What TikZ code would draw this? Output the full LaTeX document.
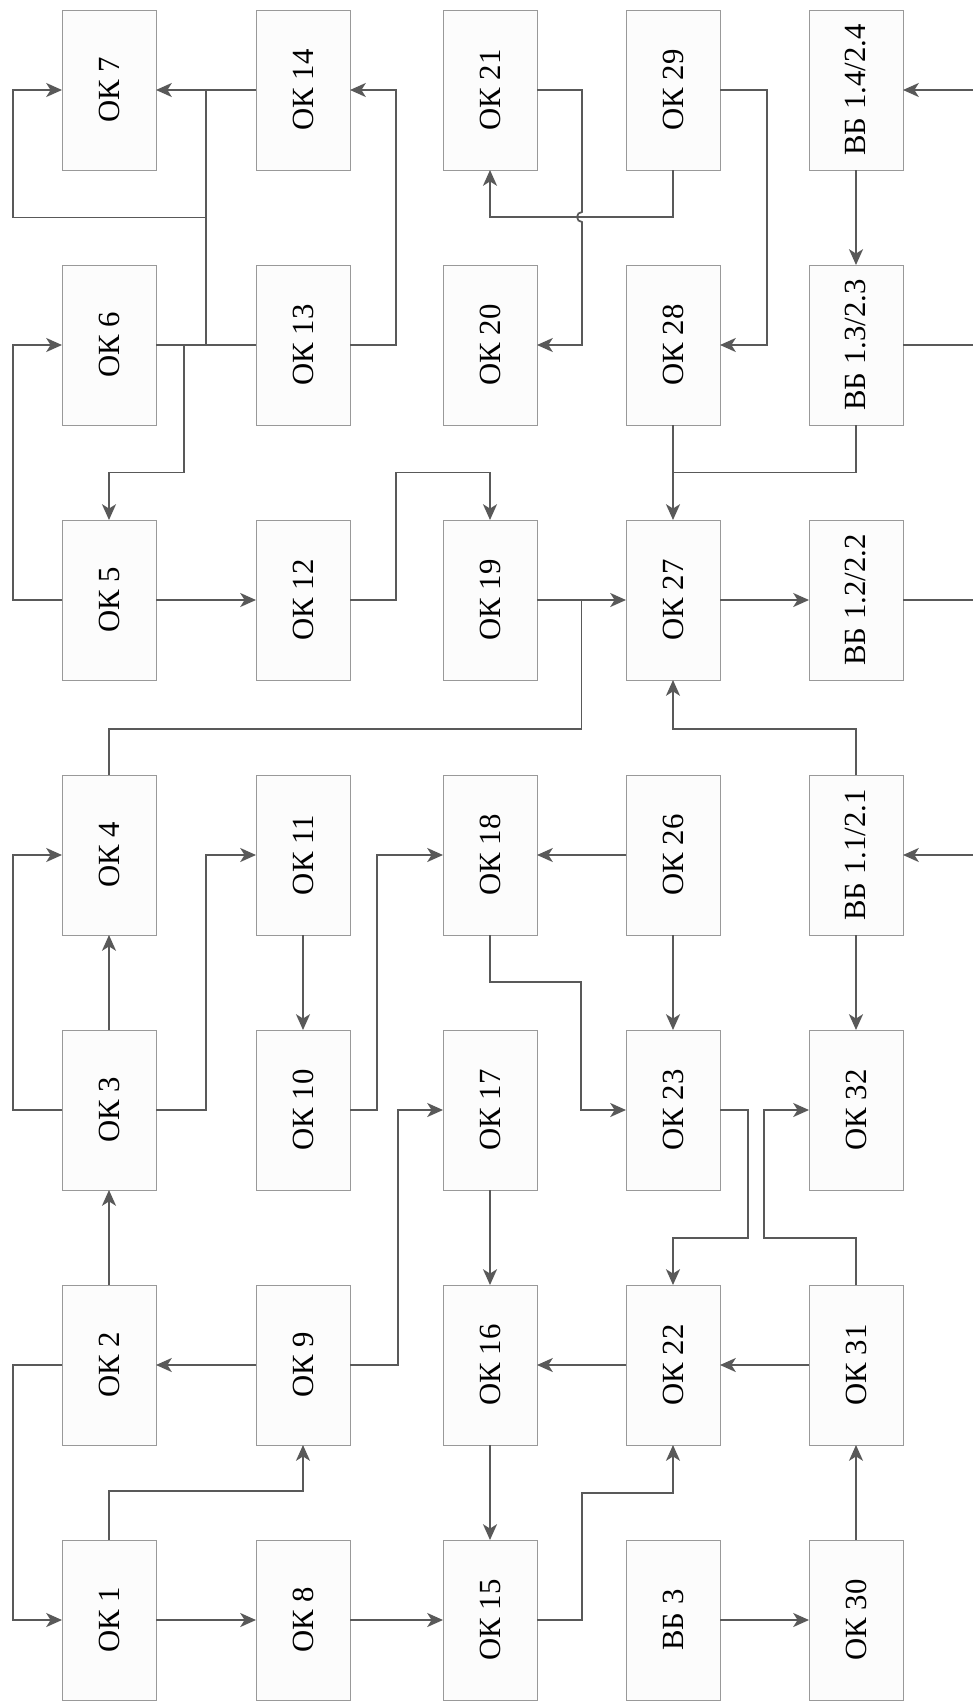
\documentclass[tikz,border=0pt]{standalone}
\usepackage{fontspec}
\setmainfont{Liberation Serif}
\usepackage{graphicx}
\usepackage{tikz}
\usetikzlibrary{arrows.meta,positioning,calc}
\newcommand{\vtext}[1]{\rotatebox{90}{#1}}

\begin{document}
\begin{tikzpicture}[
  node distance   = 1.9cm and 1.78cm,
  every node/.style = {font=\fontsize{17.5}{20}\selectfont, text=black},
  blk/.style  = {draw=black!40, line width=0.5pt, fill=black!1,
                 minimum width=1.88cm, minimum height=3.2cm,
                 inner sep=0pt, outer sep=0pt},
  arr/.style  = {-{Stealth[length=9pt,width=8pt,inset=2.5pt]},
                 draw=black!65, line width=1pt},
  ln/.style   = {draw=black!65, line width=1pt},
]
\useasboundingbox (0,0) rectangle (19.46,-34.12);

%% ---------- upper row ----------
\node[blk] (K7) at (2.18,-1.80) {\vtext{ОК 7}};
\node[blk, right=2.0cm of K7]   (K14) {\vtext{ОК 14}};
\node[blk, right=1.86cm of K14] (K21) {\vtext{ОК 21}};
\node[blk, right=of K21]        (K29) {\vtext{ОК 29}};
\node[blk, right=of K29]        (V14) {\vtext{ВБ 1.4/2.4}};

%% ---------- column 1 ----------
\node[blk, below=of K7] (K6) {\vtext{ОК 6}};
\node[blk, below=of K6] (K5) {\vtext{ОК 5}};
\node[blk, below=of K5] (K4) {\vtext{ОК 4}};
\node[blk, below=of K4] (K3) {\vtext{ОК 3}};
\node[blk, below=of K3] (K2) {\vtext{ОК 2}};
\node[blk, below=of K2] (K1) {\vtext{ОК 1}};

%% ---------- column 2 ----------
\node[blk, below=of K14] (K13) {\vtext{ОК 13}};
\node[blk, below=of K13] (K12) {\vtext{ОК 12}};
\node[blk, below=of K12] (K11) {\vtext{ОК 11}};
\node[blk, below=of K11] (K10) {\vtext{ОК 10}};
\node[blk, below=of K10] (K9)  {\vtext{ОК 9}};
\node[blk, below=of K9]  (K8)  {\vtext{ОК 8}};

%% ---------- column 3 ----------
\node[blk, below=of K21] (K20) {\vtext{ОК 20}};
\node[blk, below=of K20] (K19) {\vtext{ОК 19}};
\node[blk, below=of K19] (K18) {\vtext{ОК 18}};
\node[blk, below=of K18] (K17) {\vtext{ОК 17}};
\node[blk, below=of K17] (K16) {\vtext{ОК 16}};
\node[blk, below=of K16] (K15) {\vtext{ОК 15}};

%% ---------- column 4 ----------
\node[blk, below=of K29] (K28) {\vtext{ОК 28}};
\node[blk, below=of K28] (K27) {\vtext{ОК 27}};
\node[blk, below=of K27] (K26) {\vtext{ОК 26}};
\node[blk, below=of K26] (K23) {\vtext{ОК 23}};
\node[blk, below=of K23] (K22) {\vtext{ОК 22}};
\node[blk, below=of K22] (V3)  {\vtext{ВБ 3}};

%% ---------- column 5 ----------
\node[blk, below=of V14] (V13) {\vtext{ВБ 1.3/2.3}};
\node[blk, below=of V13] (V12) {\vtext{ВБ 1.2/2.2}};
\node[blk, below=of V12] (V11) {\vtext{ВБ 1.1/2.1}};
\node[blk, below=of V11] (K32) {\vtext{ОК 32}};
\node[blk, below=of K32] (K31) {\vtext{ОК 31}};
\node[blk, below=of K31] (K30) {\vtext{ОК 30}};

%% junctions
\coordinate (J1) at ($(K7.east)!0.5!(K14.west)$);
\coordinate (J2) at ($(K6.east)!0.5!(K13.west)$);
\coordinate (J3) at ($(J1)!0.5!(J2)$);
\coordinate (J4) at ($(K28.south)!0.5!(K27.north)$);
\coordinate (J5) at ($(K19.east)!0.5!(K27.west)$);
\coordinate (E) at (19.46,0);
\path (V14.east -| E) coordinate (R14);
\path (V13.east -| E) coordinate (R13);
\path (V12.east -| E) coordinate (R12);
\path (V11.east -| E) coordinate (R11);

%% ---------- top left ----------
\draw[arr](K14)--(K7);
\draw[ln](J1)--(J2);
\draw[ln](K6.east)--(K13.west);
\draw[arr](J3) -| ([xshift=-0.98cm]K7.west) -- (K7.west);
\draw[arr](K13.east) -- ++(0.92,0) |- (K14.east);
\draw[arr]([xshift=0.56cm]K6.east) |- ([yshift=0.95cm]K5.north) -- (K5.north);
\draw[arr](K5.west) -- ++(-0.98,0) |- (K6.west);
\draw[arr](K5)--(K12);
\draw[arr](K12.east) -- ++(0.92,0) |- ([yshift=0.95cm]K19.north) -- (K19.north);

%% ---------- top right ----------
\path (K29.south) ++(0,-0.94) coordinate (h1);
\path (K21.east) ++(0.9,0) coordinate (r1);
\coordinate (X1) at (r1 |- h1);
\draw[arr](K29.south) -- (h1) -| (K21.south);
\draw[arr](K21.east) -- (r1) -- ([yshift=0.1cm]X1)
  arc[start angle=90, end angle=270, radius=0.1cm] |- (K20.east);
\draw[arr](K29.east) -- ++(0.94,0) |- (K28.east);
\draw[arr](V14)--(V13);
\draw[arr](K28)--(K27);
\draw[ln](V13.south) |- (J4);
\draw[arr](R14)--(V14.east);
\draw[ln](V13.east)--(R13);
\draw[ln](V12.east)--(R12);
\draw[arr](R11)--(V11.east);

%% ---------- middle ----------
\draw[arr](K19)--(K27);
\draw[ln](K4.north) -- ++(0,0.92) -| (J5);
\draw[arr](K27)--(V12);
\draw[arr](V11.north) -- ++(0,0.92) -| (K27.south);
\draw[arr](V11)--(K32);
\draw[arr](K26)--(K18);
\draw[arr](K26)--(K23);
\draw[arr](K18.south) -- ++(0,-0.94) -| ([xshift=-0.9cm]K23.west) -- (K23.west);
\draw[arr](K23.east) -- ++(0.56,0) |- ([yshift=0.94cm]K22.north) -- (K22.north);
\draw[arr](K31.north) -- ++(0,0.94) -| ([xshift=-0.9cm]K32.west) -- (K32.west);

%% ---------- left side ----------
\draw[arr](K2)--(K3); \draw[arr](K3)--(K4);
\draw[arr](K3.west) -- ++(-0.98,0) |- (K4.west);
\draw[arr](K3.east) -- ++(1.0,0) |- (K11.west);
\draw[arr](K11)--(K10);
\draw[arr](K10.east) -- ++(0.54,0) |- (K18.west);
\draw[arr](K9)--(K2);
\draw[arr](K9.east) -- ++(0.96,0) |- (K17.west);
\draw[arr](K2.west) -- ++(-0.98,0) |- (K1.west);
\draw[arr](K1.north) -- ++(0,0.98) -| (K9.south);
\draw[arr](K1)--(K8); \draw[arr](K8)--(K15);

%% ---------- bottom ----------
\draw[arr](K17)--(K16); \draw[arr](K16)--(K15);
\draw[arr](K22)--(K16); \draw[arr](K31)--(K22);
\draw[arr](K15.east) -- ++(0.9,0) |- ([yshift=-0.96cm]K22.south) -- (K22.south);
\draw[arr](V3)--(K30); \draw[arr](K30)--(K31);

\end{tikzpicture}
\end{document}
